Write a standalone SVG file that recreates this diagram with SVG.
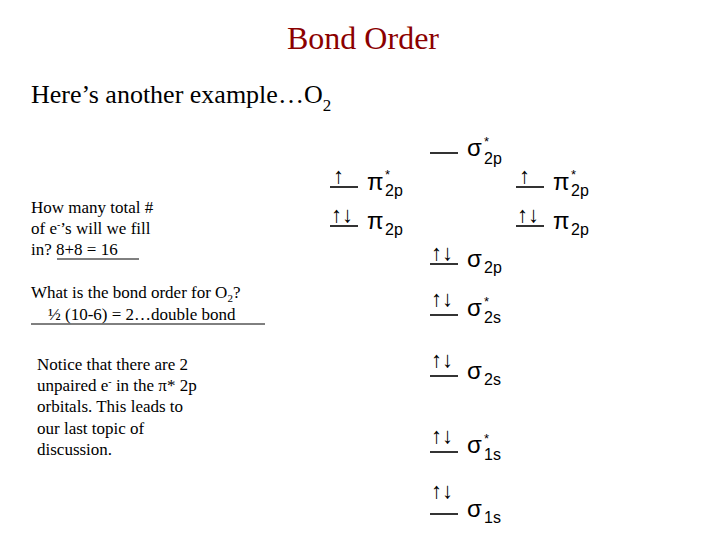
<svg xmlns="http://www.w3.org/2000/svg" width="720" height="540" viewBox="0 0 720 540">
<style>
.t{font-family:"Liberation Serif",serif;fill:#000}
.lv{stroke:#000;stroke-width:1.6}
.lb{font-family:"Liberation Sans",sans-serif;font-size:24px}
.sb{font-family:"Liberation Sans",sans-serif;font-size:16px}
.sp{font-family:"Liberation Sans",sans-serif;font-size:13px}
.ar{font-family:"Liberation Serif",serif;font-size:22px}
</style>
<rect width="720" height="540" fill="#fff"/>
<text x="363" y="49" text-anchor="middle" font-size="32" style="fill:#8b0000;font-family:'Liberation Serif',serif">Bond Order</text>
<text class="t" x="31" y="103" font-size="26">Here’s another example…O<tspan font-size="17" dy="8">2</tspan></text>
<g id="text1" class="t" font-size="17">
<text x="31" y="213">How many total #</text>
<text x="31" y="234">of e<tspan font-size="10" dy="-6">-</tspan><tspan dy="6">’s will we fill</tspan></text>
<text x="31" y="255">in? 8+8 = 16</text>
<line x1="57" y1="259" x2="139" y2="259" stroke="#000"/>
<text x="31" y="298">What is the bond order for O<tspan font-size="11" dy="4">2</tspan><tspan dy="-4">?</tspan></text>
<text x="48" y="320">½ (10-6) = 2…double bond</text>
<line x1="31" y1="324" x2="265" y2="324" stroke="#000"/>
<text x="37" y="370">Notice that there are 2</text>
<text x="37" y="391">unpaired e<tspan font-size="10" dy="-6">-</tspan><tspan dy="6"> in the π* 2p</tspan></text>
<text x="37" y="412">orbitals.  This leads to</text>
<text x="37" y="434">our last topic of</text>
<text x="37" y="455">discussion.</text>
</g>
<g id="sigma2p_star"><line class="lv" x1="430" y1="153" x2="458" y2="153"/><text class="lb" x="467" y="156">σ</text><text class="sp" x="484" y="146">*</text><text class="sb" x="484" y="164">2p</text></g>
<g id="pi2p_star_L"><line class="lv" x1="330" y1="187" x2="358" y2="187"/><text class="ar" x="333" y="183">↑</text><text class="lb" x="367" y="190">π</text><text class="sp" x="385" y="179">*</text><text class="sb" x="385" y="196">2p</text></g>
<g id="pi2p_star_R"><line class="lv" x1="516" y1="187" x2="544" y2="187"/><text class="ar" x="519" y="183">↑</text><text class="lb" x="553" y="190">π</text><text class="sp" x="571" y="179">*</text><text class="sb" x="571" y="196">2p</text></g>
<g id="pi2p_L"><line class="lv" x1="330" y1="226" x2="358" y2="226"/><text class="ar" x="331" y="222">↑↓</text><text class="lb" x="367" y="229">π</text><text class="sb" x="385" y="235">2p</text></g>
<g id="pi2p_R"><line class="lv" x1="516" y1="226" x2="544" y2="226"/><text class="ar" x="517" y="222">↑↓</text><text class="lb" x="553" y="229">π</text><text class="sb" x="571" y="235">2p</text></g>
<g id="sigma2p"><line class="lv" x1="430" y1="264" x2="458" y2="264"/><text class="ar" x="431" y="260">↑↓</text><text class="lb" x="467" y="267">σ</text><text class="sb" x="484" y="273">2p</text></g>
<g id="sigma2s_star"><line class="lv" x1="430" y1="315" x2="458" y2="315"/><text class="ar" x="431" y="306">↑↓</text><text class="lb" x="467" y="316">σ</text><text class="sp" x="484" y="306">*</text><text class="sb" x="484" y="323">2s</text></g>
<g id="sigma2s"><line class="lv" x1="430" y1="376" x2="458" y2="376"/><text class="ar" x="431" y="367">↑↓</text><text class="lb" x="467" y="379">σ</text><text class="sb" x="484" y="385">2s</text></g>
<g id="sigma1s_star"><line class="lv" x1="430" y1="452" x2="458" y2="452"/><text class="ar" x="431" y="443">↑↓</text><text class="lb" x="467" y="453">σ</text><text class="sp" x="484" y="443">*</text><text class="sb" x="484" y="460">1s</text></g>
<g id="sigma1s"><line class="lv" x1="430" y1="514" x2="458" y2="514"/><text class="ar" x="431" y="498">↑↓</text><text class="lb" x="467" y="517">σ</text><text class="sb" x="484" y="523">1s</text></g>
<g id="connectors"></g>
</svg>
